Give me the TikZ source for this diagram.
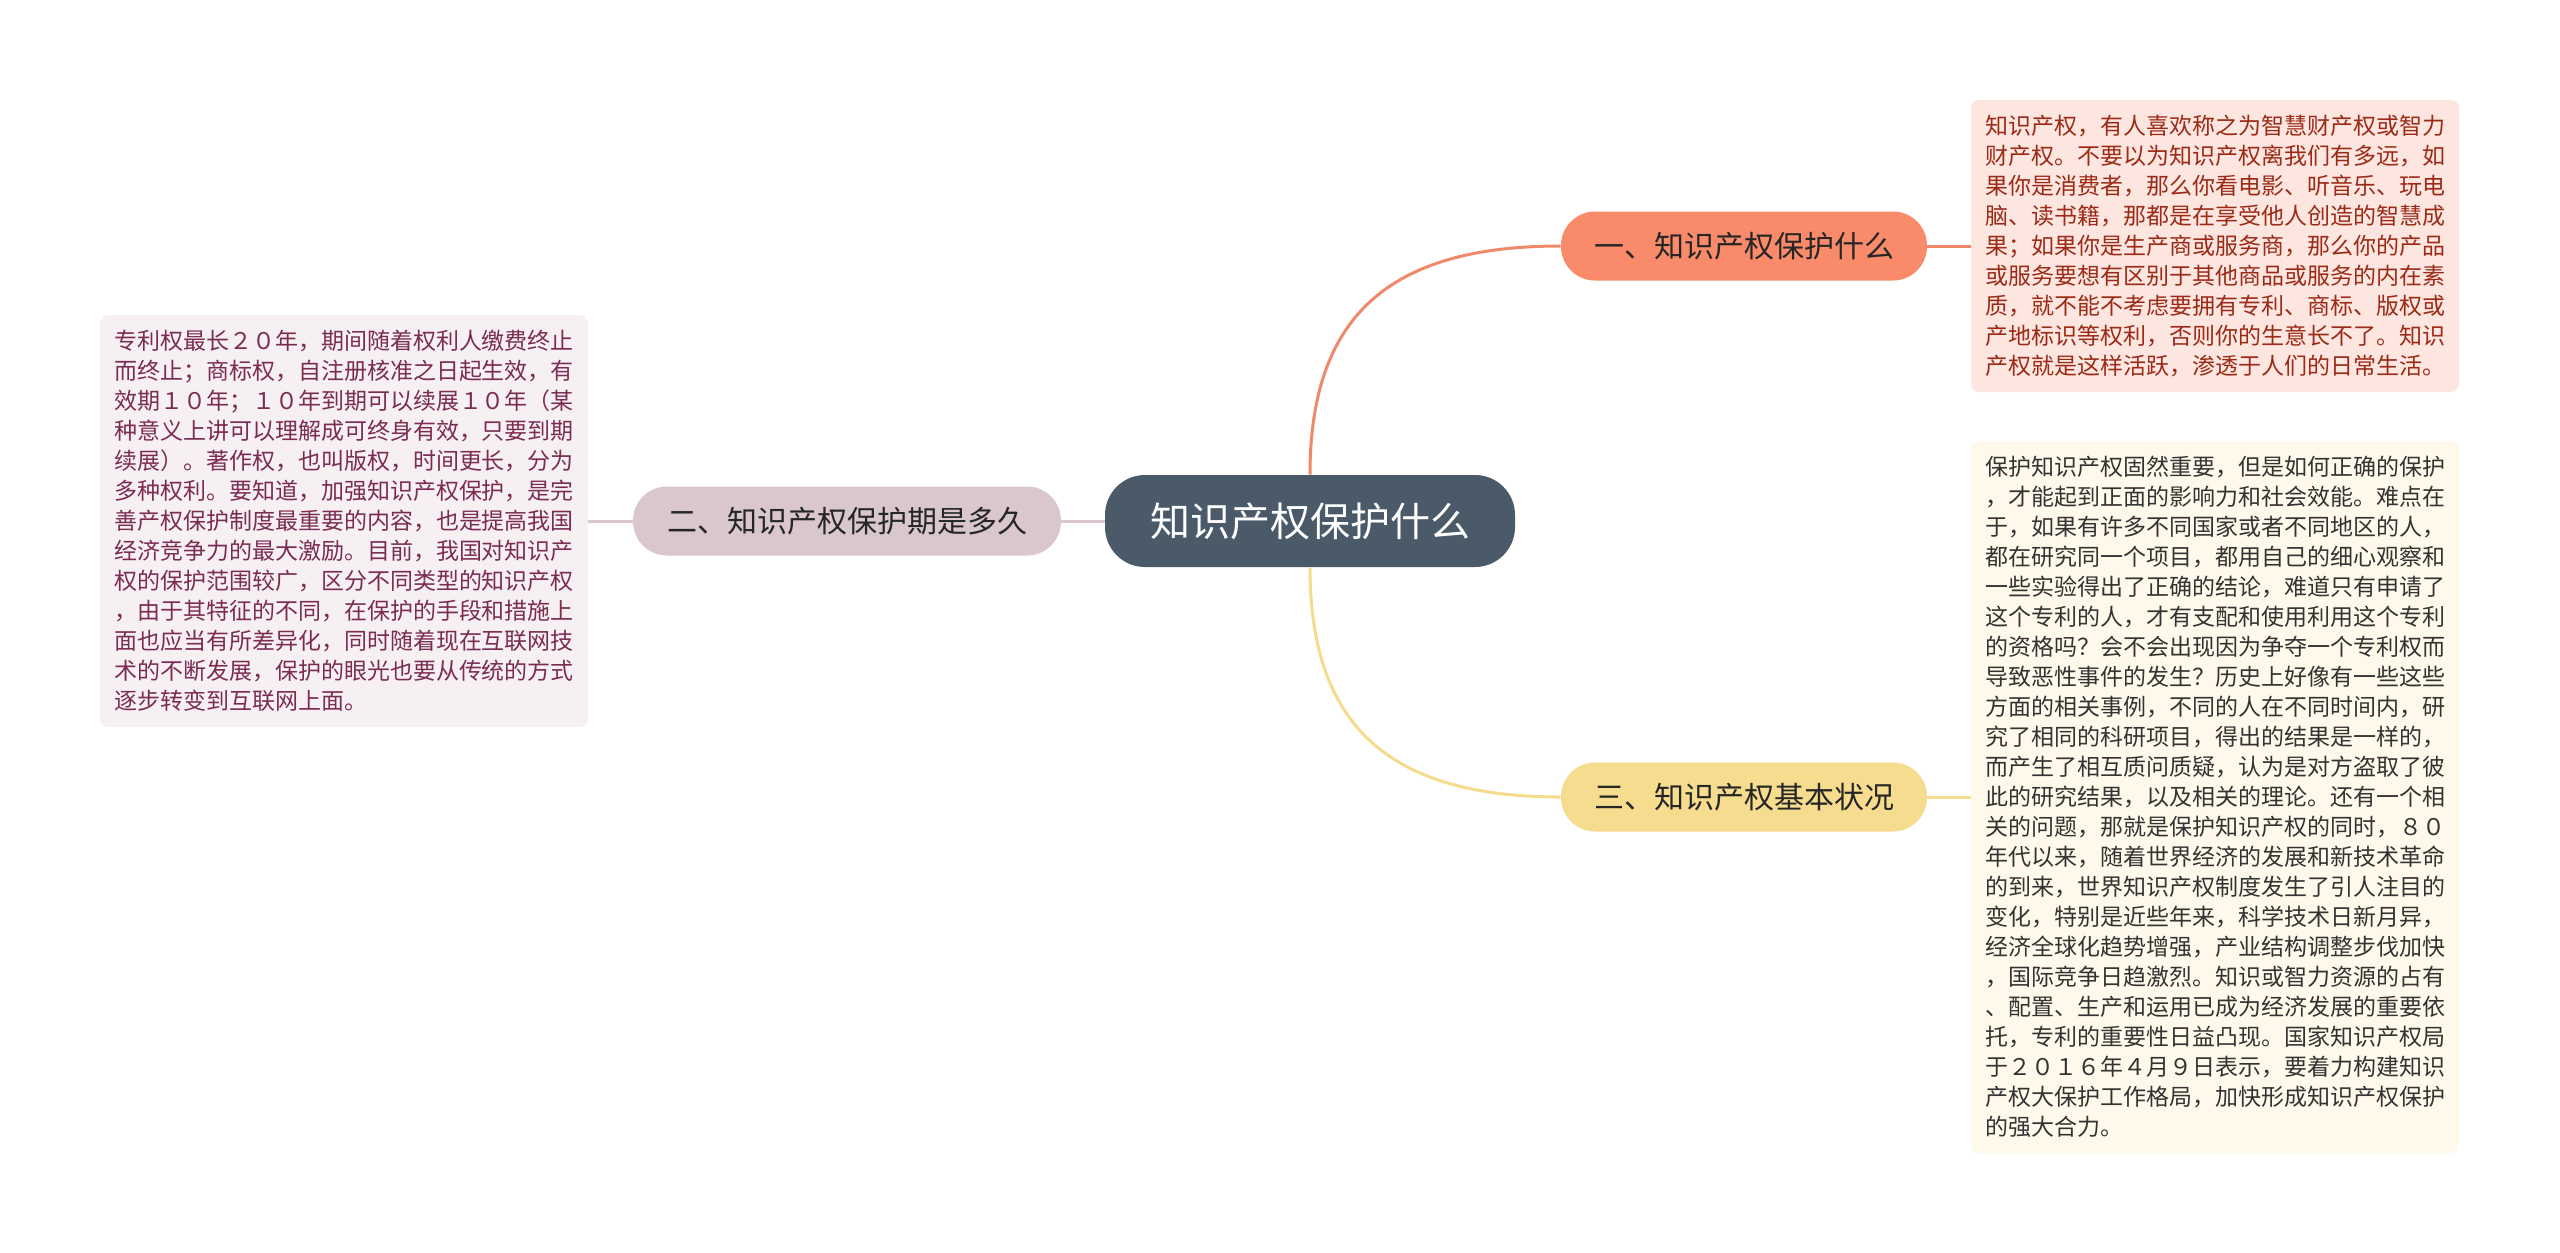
\documentclass[tikz,border=0pt]{standalone}
\usepackage{fontspec}
\newfontfamily\cjk{Noto Sans CJK SC}
\definecolor{cfill}{HTML}{4A5A69}
\definecolor{bonefill}{HTML}{F98B6B}
\definecolor{btwofill}{HTML}{D9C6CE}
\definecolor{bthreefill}{HTML}{F6DC8E}
\definecolor{lonefill}{HTML}{FDE6E0}
\definecolor{ltwofill}{HTML}{F6F0F3}
\definecolor{lthreefill}{HTML}{FEF9EA}
\definecolor{lonetext}{HTML}{9B2A16}
\definecolor{ltwotext}{HTML}{7B2C52}
\definecolor{lthreetext}{HTML}{333333}
\definecolor{conone}{HTML}{F0896A}
\definecolor{conthree}{HTML}{F5DC8C}
\tikzset{
  rootbox/.style={fill=cfill, text=white, rounded corners=20pt, minimum width=205pt, minimum height=46pt, inner sep=0pt, font=\cjk\fontsize{20pt}{24pt}\selectfont},
  branchbox/.style={rounded corners=17pt, minimum height=34.5pt, inner sep=0pt, text=black!85, font=\cjk\fontsize{15pt}{18pt}\selectfont},
  leafbox/.style={rounded corners=4pt, minimum width=244pt, inner xsep=6.5pt, inner ysep=5pt, align=left, font=\cjk\fontsize{11.5pt}{15pt}\selectfont},
  link/.style={line width=1.5pt}
}
\begin{document}
\begin{tikzpicture}[x=0.5pt,y=-0.5pt]
\useasboundingbox[fill=white] (0,0) rectangle (2560,1253);

\node[rootbox] (c) at (1310,521) {知识产权保护什么};

\node[branchbox, fill=bonefill, minimum width=183pt] (b1) at (1744,246) {一、知识产权保护什么};
\node[branchbox, fill=btwofill, minimum width=214pt] (b2) at (847,521) {二、知识产权保护期是多久};
\node[branchbox, fill=bthreefill, minimum width=183pt] (b3) at (1744,797) {三、知识产权基本状况};

\node[leafbox, fill=lonefill, text=lonetext, minimum height=146pt] (l1) at (2215,246) {知识产权，有人喜欢称之为智慧财产权或智力\\财产权。不要以为知识产权离我们有多远，如\\果你是消费者，那么你看电影、听音乐、玩电\\脑、读书籍，那都是在享受他人创造的智慧成\\果；如果你是生产商或服务商，那么你的产品\\或服务要想有区别于其他商品或服务的内在素\\质，就不能不考虑要拥有专利、商标、版权或\\产地标识等权利，否则你的生意长不了。知识\\产权就是这样活跃，渗透于人们的日常生活。};

\node[leafbox, fill=ltwofill, text=ltwotext, minimum height=206pt] (l2) at (344,521) {专利权最长２０年，期间随着权利人缴费终止\\而终止；商标权，自注册核准之日起生效，有\\效期１０年；１０年到期可以续展１０年（某\\种意义上讲可以理解成可终身有效，只要到期\\续展）。著作权，也叫版权，时间更长，分为\\多种权利。要知道，加强知识产权保护，是完\\善产权保护制度最重要的内容，也是提高我国\\经济竞争力的最大激励。目前，我国对知识产\\权的保护范围较广，区分不同类型的知识产权\\，由于其特征的不同，在保护的手段和措施上\\面也应当有所差异化，同时随着现在互联网技\\术的不断发展，保护的眼光也要从传统的方式\\逐步转变到互联网上面。};

\node[leafbox, fill=lthreefill, text=lthreetext, minimum height=356pt] (l3) at (2215,797) {保护知识产权固然重要，但是如何正确的保护\\，才能起到正面的影响力和社会效能。难点在\\于，如果有许多不同国家或者不同地区的人，\\都在研究同一个项目，都用自己的细心观察和\\一些实验得出了正确的结论，难道只有申请了\\这个专利的人，才有支配和使用利用这个专利\\的资格吗？会不会出现因为争夺一个专利权而\\导致恶性事件的发生？历史上好像有一些这些\\方面的相关事例，不同的人在不同时间内，研\\究了相同的科研项目，得出的结果是一样的，\\而产生了相互质问质疑，认为是对方盗取了彼\\此的研究结果，以及相关的理论。还有一个相\\关的问题，那就是保护知识产权的同时，８０\\年代以来，随着世界经济的发展和新技术革命\\的到来，世界知识产权制度发生了引人注目的\\变化，特别是近些年来，科学技术日新月异，\\经济全球化趋势增强，产业结构调整步伐加快\\，国际竞争日趋激烈。知识或智力资源的占有\\、配置、生产和运用已成为经济发展的重要依\\托，专利的重要性日益凸现。国家知识产权局\\于２０１６年４月９日表示，要着力构建知识\\产权大保护工作格局，加快形成知识产权保护\\的强大合力。};

\begin{scope}[on background layer/.style={}]
\draw[link, conone] (c.north) .. controls +(0,-160) and +(-170,0) .. (b1.west);
\draw[link, conthree] (c.south) .. controls +(0,160) and +(-170,0) .. (b3.west);
\draw[link, btwofill] (c.west) -- (b2.east);
\draw[link, conone] (b1.east) -- (l1.west);
\draw[link, btwofill] (b2.west) -- (l2.east);
\draw[link, conthree] (b3.east) -- (l3.west);
\end{scope}
\end{tikzpicture}
\end{document}
